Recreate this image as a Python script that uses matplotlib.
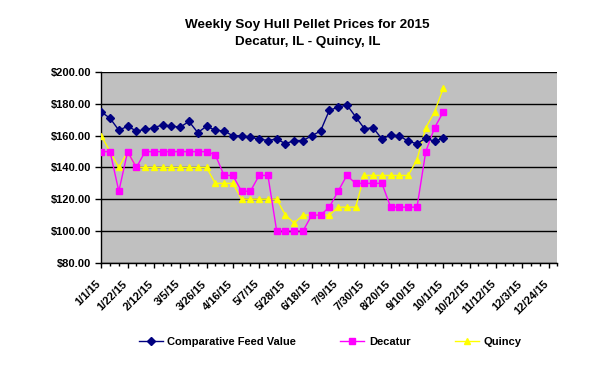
import matplotlib.pyplot as plt
from matplotlib.ticker import FuncFormatter, MultipleLocator
from matplotlib.transforms import ScaledTranslation

plt.rcParams['font.family'] = ['Liberation Sans', 'DejaVu Sans']

# weekly prices, $/ton, starting 1/1/15
cfv = [175, 171, 163.5, 166, 163, 164, 165, 167, 166, 165.5,
       169, 162, 166, 163.5, 163, 160, 160, 159, 158, 157,
       158, 155, 157, 157, 160, 163, 176, 178, 179.5, 172,
       164.5, 165, 158, 160.5, 160, 156.5, 155, 158.5, 156.5, 158.5]
decatur = [150, 150, 125, 150, 140, 150, 150, 150, 150, 150,
           150, 150, 150, 148, 135, 135, 125, 125, 135, 135,
           100, 100, 100, 100, 110, 110, 115, 125, 135, 130,
           130, 130, 130, 115, 115, 115, 115, 150, 165, 175]
quincy = [160, 150, 140, 150, 140, 140, 140, 140, 140, 140,
          140, 140, 140, 130, 130, 130, 120, 120, 120, 120,
          120, 110, 105, 110, 110, 110, 110, 115, 115, 115,
          135, 135, 135, 135, 135, 135, 145, 165, 175, 190]

tick_labels = ['1/1/15', '1/22/15', '2/12/15', '3/5/15', '3/26/15', '4/16/15',
               '5/7/15', '5/28/15', '6/18/15', '7/9/15', '7/30/15', '8/20/15',
               '9/10/15', '10/1/15', '10/22/15', '11/12/15', '12/3/15', '12/24/15']
n_weeks = 53

fig = plt.figure(figsize=(6, 3.65), dpi=100)
ax = fig.add_axes([101.3 / 600, (365 - 262.7) / 365, 456 / 600, 190.4 / 365])
ax.set_facecolor('#C0C0C0')

x = list(range(len(cfv)))
ax.plot(x, cfv, color='#000080', marker='D', markersize=4, lw=1,
        label='Comparative Feed Value', zorder=5)
ax.plot(x, decatur, color='#FF00FF', marker='s', markersize=4.5, lw=1,
        label='Decatur', zorder=4)
ax.plot(x, quincy, color='#FFFF00', marker='^', markersize=5, lw=1,
        label='Quincy', zorder=3)

ax.set_xlim(0, n_weeks - 1)
ax.set_ylim(80, 200)
ax.yaxis.set_major_locator(MultipleLocator(20))
ax.yaxis.set_major_formatter(FuncFormatter(lambda v, p: '${:.2f}'.format(v)))
ax.grid(axis='y', color='black', lw=1)
ax.set_axisbelow(True)

ax.set_xticks(range(0, n_weeks, 3))
ax.set_xticklabels(tick_labels, rotation=45, ha='right', va='top',
                   rotation_mode='anchor')
ax.set_xticks(range(n_weeks), minor=True)
ax.tick_params(axis='x', which='major', length=3.5, width=1, pad=8)
ax.tick_params(axis='x', which='minor', length=2, width=1)
ax.tick_params(axis='y', length=4, width=1, pad=3)
shift = ScaledTranslation(-4 / 72, 0, fig.dpi_scale_trans)
for lab in ax.get_xticklabels():
    lab.set_transform(lab.get_transform() + shift)
for lab in ax.get_xticklabels() + ax.get_yticklabels():
    lab.set_fontsize(8)
    lab.set_fontweight('bold')

for s in ['top', 'right']:
    ax.spines[s].set_visible(False)
for s in ['left', 'bottom']:
    ax.spines[s].set_color('black')
    ax.spines[s].set_linewidth(1)

fig.text(0.513, 0.908, 'Weekly Soy Hull Pellet Prices for 2015\nDecatur, IL - Quincy, IL',
         ha='center', va='center', fontsize=9.7, fontweight='bold', linespacing=1.55)

leg = fig.legend(loc='center', bbox_to_anchor=(0.55, 0.063), ncol=3, frameon=False,
                 prop={'size': 8, 'weight': 'bold'}, columnspacing=4.0,
                 handlelength=2.15, handletextpad=0.4)

fig.savefig('out.png', dpi=100)
